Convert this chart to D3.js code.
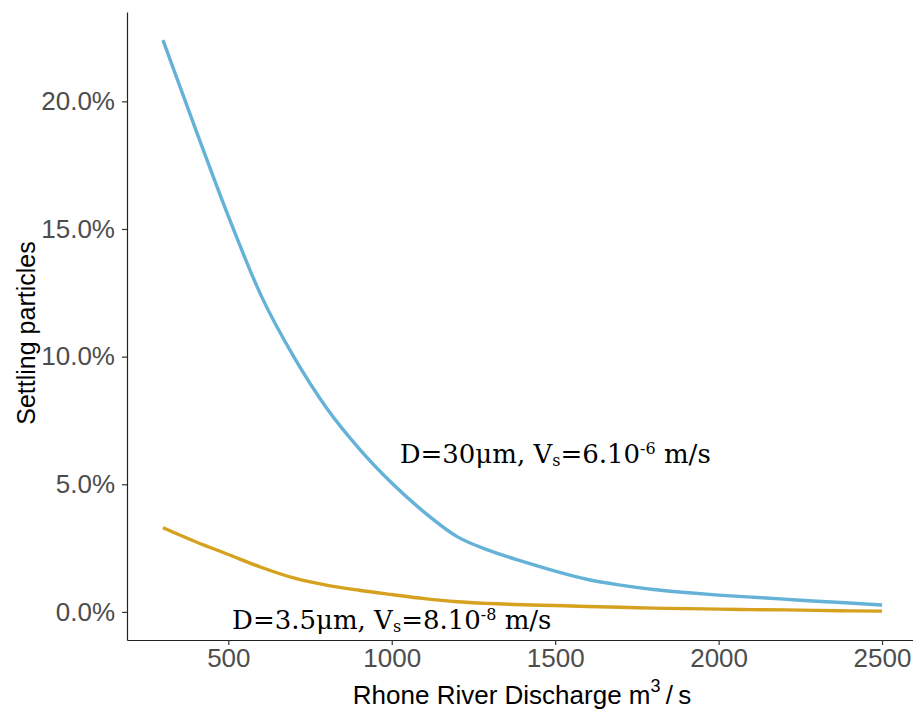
<!DOCTYPE html>
<html>
<head>
<meta charset="utf-8">
<script src="https://cdn.jsdelivr.net/npm/d3@7"></script>
<style>
  body { margin: 0; background: #fff; }
  svg { display: block; }
</style>
</head>
<body>
<svg width="913" height="715"></svg>
<script>
// discharge values (m3/s)
var discharge = [300, 400, 500, 600, 700, 800, 900, 1000, 1100, 1200, 1300, 1400,
  1500, 1600, 1700, 1800, 1900, 2000, 2100, 2200, 2300, 2400, 2500]
// settling particles (%) for D=30um
var coarse = [22.4, 18.9, 15.5, 12.4, 10.0, 8.0, 6.4, 5.05, 3.9, 2.95, 2.4, 1.98,
  1.6, 1.27, 1.05, 0.88, 0.76, 0.66, 0.58, 0.5, 0.42, 0.35, 0.27]
// settling particles (%) for D=3.5um
var fine = [3.3, 2.75, 2.25, 1.75, 1.33, 1.05, 0.85, 0.68, 0.52, 0.4, 0.33, 0.28,
  0.25, 0.21, 0.18, 0.15, 0.13, 0.11, 0.09, 0.08, 0.06, 0.04, 0.03]
var xTicks = [500, 1000, 1500, 2000, 2500]
var yTicks = [0, 5, 10, 15, 20]
// annotation anchors in data units
var labelX = [1500, 1000]
var labelY = [6.2, -0.3]

document.addEventListener("DOMContentLoaded", function () {

  var svg = d3.select("svg")
  var left = 127, right = 918, top = 12, bottom = 640

  var xScale = d3.scaleLinear().domain([190, 2610]).range([left, right])
  var yScale = d3.scaleLinear().domain([-1.1, 23.5]).range([bottom, top])

  var xAxis = d3.axisBottom(xScale)
    .tickValues(xTicks)
    .tickSizeInner(5)
    .tickSizeOuter(0)
    .tickPadding(4)
    .tickFormat(d3.format("d"))
  var yAxis = d3.axisLeft(yScale)
    .tickValues(yTicks)
    .tickSizeInner(5)
    .tickSizeOuter(0)
    .tickPadding(7)
    .tickFormat(function (d) { return d.toFixed(1) + "%" })

  var gx = svg.append("g").attr("transform", "translate(0," + bottom + ")").call(xAxis)
  var gy = svg.append("g").attr("transform", "translate(" + left + ",0)").call(yAxis)

  ;[gx, gy].forEach(function (g) {
    g.select(".domain").attr("stroke", "#222").attr("stroke-width", 1.2)
    g.selectAll(".tick line").attr("stroke", "#333").attr("stroke-width", 1.2)
    g.selectAll(".tick text")
      .attr("fill", "#4d4d4d")
      .style("font-family", "'Liberation Sans', Arial, sans-serif")
      .style("font-size", "26px")
  })

  var line = d3.line()
    .curve(d3.curveMonotoneX)
    .x(function (d) { return xScale(d[0]) })
    .y(function (d) { return yScale(d[1]) })

  var series = [
    { values: coarse, color: "#64b2d8" },
    { values: fine, color: "#d5a11e" }
  ]

  svg.selectAll("path.series")
    .data(series)
    .enter()
    .append("path")
    .attr("class", "series")
    .attr("fill", "none")
    .attr("stroke", function (d) { return d.color })
    .attr("stroke-width", 3.4)
    .attr("stroke-linejoin", "round")
    .attr("d", function (d) {
      return line(d.values.map(function (v, i) { return [discharge[i], v] }))
    })

  // annotations
  var labels = [
    ["D=30μm, V", "s", "=6.10", "-6", " m/s"],
    ["D=3.5μm, V", "s", "=8.10", "-8", " m/s"]
  ]
  labels.forEach(function (parts, i) {
    var t = svg.append("text")
      .attr("x", xScale(labelX[i]))
      .attr("y", yScale(labelY[i]))
      .attr("dy", "0.35em")
      .attr("text-anchor", "middle")
      .style("font-family", "'DejaVu Serif', serif")
      .style("font-size", "26px")
      .attr("fill", "#000")
    t.append("tspan").text(parts[0])
    t.append("tspan").attr("dy", 3).style("font-size", "16px").text(parts[1])
    t.append("tspan").attr("dy", -3).text(parts[2])
    t.append("tspan").attr("dy", -9).style("font-size", "16px").text(parts[3])
    t.append("tspan").attr("dy", 9).text(parts[4])
  })

  // axis titles
  var xt = svg.append("text")
    .attr("x", 522)
    .attr("y", 704)
    .attr("text-anchor", "middle")
    .style("font-family", "'Liberation Sans', Arial, sans-serif")
    .style("font-size", "26px")
    .attr("fill", "#000")
  xt.append("tspan").text("Rhone River Discharge m")
  xt.append("tspan").attr("dy", -12).style("font-size", "18px").text("3")
  xt.append("tspan").attr("dy", 12).text("\u2009/\u2009s")

  svg.append("text")
    .attr("transform", "translate(35,333) rotate(-90)")
    .attr("text-anchor", "middle")
    .style("font-family", "'Liberation Sans', Arial, sans-serif")
    .style("font-size", "25px")
    .attr("fill", "#000")
    .text("Settling particles")
})
</script>
</body>
</html>
